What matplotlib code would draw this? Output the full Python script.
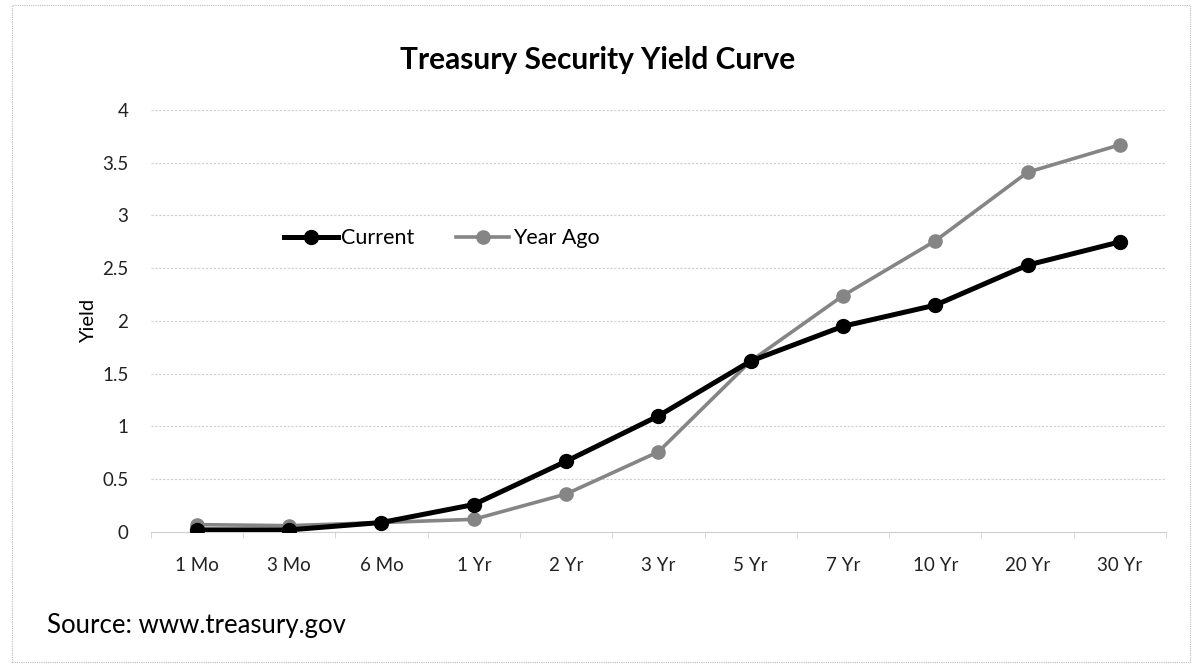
import numpy as np
import matplotlib
matplotlib.use('Agg')
import matplotlib.pyplot as plt
from matplotlib.patches import Rectangle

plt.rcParams['font.family'] = ['Lato', 'DejaVu Sans']

maturities = ['1 Mo', '3 Mo', '6 Mo', '1 Yr', '2 Yr', '3 Yr', '5 Yr', '7 Yr', '10 Yr', '20 Yr', '30 Yr']
current = [0.02, 0.02, 0.09, 0.26, 0.67, 1.10, 1.62, 1.95, 2.15, 2.53, 2.75]
year_ago = [0.07, 0.06, 0.09, 0.12, 0.36, 0.76, 1.62, 2.24, 2.76, 3.41, 3.67]
yticks = [0, 0.5, 1, 1.5, 2, 2.5, 3, 3.5, 4]

fig = plt.figure(figsize=(11.96, 6.67), dpi=100)
ax = fig.add_axes([0.126, 0.2024, 0.849, 0.6327])

x = np.arange(len(maturities))
ax.plot(x, current, color='black', linewidth=3.6, marker='o', markersize=10,
        label='Current', zorder=4)
ax.plot(x, year_ago, color='#858585', linewidth=2.6, marker='o', markersize=9.5,
        label='Year Ago', zorder=3)

ax.set_xlim(-0.5, len(maturities) - 0.5)
ax.set_ylim(0, 4)
ax.set_yticks(yticks)
ax.set_yticklabels(['0', '0.5', '1', '1.5', '2', '2.5', '3', '3.5', '4'])
ax.set_xticks(x)
ax.set_xticklabels(maturities)
ax.tick_params(axis='both', length=0, labelsize=13.5, colors='#222222')
ax.tick_params(axis='x', pad=18)
ax.tick_params(axis='y', pad=16)
ax.set_xticks(np.arange(-0.5, len(maturities), 1), minor=True)
ax.tick_params(axis='x', which='minor', length=4, color='#d0d0d0')

ax.yaxis.grid(True, color='#cfcfcf', linewidth=0.8, linestyle=(0, (2, 1.5)))
ax.set_axisbelow(True)
for s in ['top', 'right', 'left']:
    ax.spines[s].set_visible(False)
ax.spines['bottom'].set_color('#cfcfcf')
ax.spines['bottom'].set_linewidth(0.8)

ax.set_ylabel('Yield', fontsize=14.5, labelpad=4)

fig.text(0.5, 0.91, 'Treasury Security Yield Curve', ha='center', va='center',
         fontsize=21.5, fontweight='bold')
fig.text(0.039, 0.062, 'Source: www.treasury.gov', ha='left', va='center', fontsize=18.5)

leg = ax.legend(loc='center left', bbox_to_anchor=(0.2216, 0.643), bbox_transform=fig.transFigure,
                ncol=2, frameon=False, fontsize=15.5, handlelength=2.5, columnspacing=1.9,
                handletextpad=0.15)

fig.patches.append(Rectangle((0.01, 0.008), 0.985, 0.985, transform=fig.transFigure,
                             fill=False, edgecolor='#bbbbbb', linewidth=0.8,
                             linestyle=(0, (1, 1))))

fig.savefig('out.png', dpi=100)
